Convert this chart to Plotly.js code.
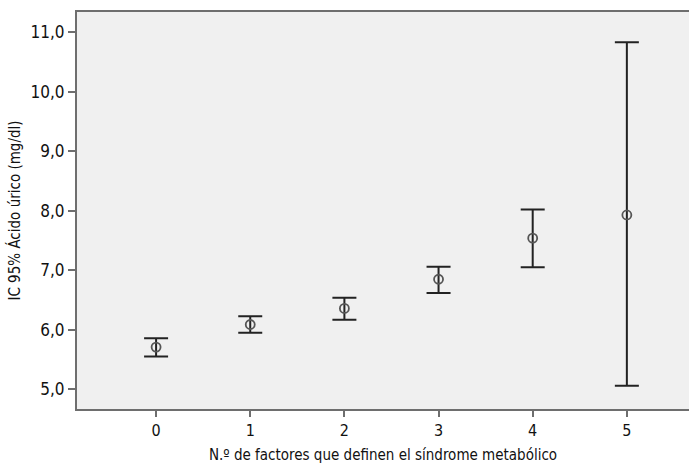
<!DOCTYPE html>
<html>
<head>
<meta charset="utf-8">
<script src="https://cdn.plot.ly/plotly-3.0.1.min.js"></script>
<style>html,body{margin:0;padding:0;background:#fff;}#chart{width:689px;height:468px;}</style>
</head>
<body>
<div id="chart"></div>
<script>
const categories = [0, 1, 2, 3, 4, 5];
const means = [5.71, 6.09, 6.36, 6.85, 7.54, 7.93];
const upper = [5.86, 6.23, 6.54, 7.06, 8.02, 10.83];
const lower = [5.55, 5.95, 6.17, 6.62, 7.05, 5.06];
const yTicks = [5, 6, 7, 8, 9, 10, 11];

const FONT = "'Liberation Sans Narrow', 'DejaVu Sans Condensed', 'Arial Narrow', sans-serif";

const errPlus = means.map((m, i) => upper[i] - m);
const errMinus = means.map((m, i) => m - lower[i]);

const trace = {
  x: categories,
  y: means,
  type: 'scatter',
  mode: 'markers',
  marker: {symbol: 'circle-open', size: 9, color: '#555555', line: {width: 1.8, color: '#555555'}},
  error_y: {
    type: 'data', symmetric: false,
    array: errPlus, arrayminus: errMinus,
    color: '#222222', thickness: 2, width: 12
  },
  hoverinfo: 'skip'
};

const layout = {
  width: 689, height: 468,
  margin: {l: 77, r: 0, t: 12, b: 59},
  paper_bgcolor: '#ffffff',
  plot_bgcolor: '#f0f0f0',
  separators: ', ',
  showlegend: false,
  font: {family: FONT, color: '#111111', size: 16},
  xaxis: {
    range: [-0.84, 5.66],
    tickvals: categories,
    ticktext: categories.map(String),
    showgrid: false, zeroline: false,
    showline: true, linecolor: '#6e6e6e', linewidth: 2, mirror: true,
    ticks: 'outside', ticklen: 6, tickwidth: 2, tickcolor: '#6e6e6e',
    tickfont: {family: FONT, size: 16, color: '#111111'},
    title: {text: 'N.º de factores que definen el síndrome metabólico', font: {family: FONT, size: 15, color: '#111111'}, standoff: 10}
  },
  yaxis: {
    range: [4.67, 11.34],
    tickvals: yTicks,
    tickformat: '.1f',
    showgrid: false, zeroline: false,
    showline: true, linecolor: '#6e6e6e', linewidth: 2, mirror: false,
    ticks: 'outside', ticklen: 7, tickwidth: 2, tickcolor: '#6e6e6e',
    tickfont: {family: FONT, size: 17, color: '#111111'},
    title: {text: 'IC 95% Ácido úrico (mg/dl)', font: {family: FONT, size: 15, color: '#111111'}, standoff: 6}
  }
};

Plotly.newPlot('chart', [trace], layout, {staticPlot: true, displayModeBar: false});
</script>
</body>
</html>
